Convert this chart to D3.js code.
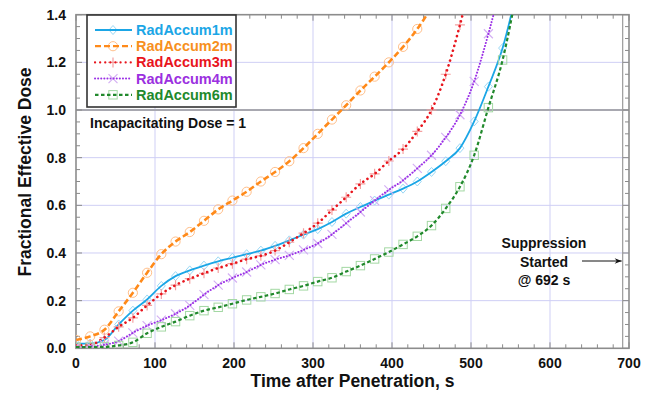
<!DOCTYPE html>
<html><head><meta charset="utf-8">
<script src="https://cdn.jsdelivr.net/npm/d3@7"></script>
<style>
body{margin:0;background:#fff}
svg{display:block}
text{font-family:"Liberation Sans",Arial,sans-serif;font-weight:bold}
</style>
</head><body>
<svg id="c" width="656" height="397"></svg>
<script>
const times = [0,18,36,54,72,90,108,126,144,162,180,198,216,234,252,270,288,306,324,342,360,378,396,414,432,450,468,486,504,522,540,558];
const rad1m = [0.02,0.02,0.035,0.10,0.158,0.205,0.262,0.303,0.327,0.347,0.365,0.38,0.395,0.41,0.43,0.453,0.477,0.50,0.53,0.565,0.593,0.62,0.645,0.67,0.70,0.74,0.785,0.84,0.952,1.098,1.26,1.50];
const rad2m = [0.035,0.05,0.078,0.155,0.233,0.317,0.395,0.448,0.488,0.535,0.583,0.62,0.657,0.70,0.74,0.785,0.84,0.90,0.96,1.02,1.082,1.14,1.20,1.265,1.34,1.43,null,null,null,null,null,null];
const rad3m = [0.012,0.015,0.045,0.09,0.128,0.18,0.228,0.265,0.292,0.315,0.337,0.355,0.374,0.388,0.41,0.445,0.483,0.525,0.58,0.634,0.69,0.732,0.786,0.836,0.91,1.0,1.15,1.357,1.6,null,null,null];
const rad4m = [0.006,0.008,0.015,0.03,0.065,0.095,0.118,0.145,0.18,0.225,0.265,0.295,0.32,0.35,0.372,0.39,0.413,0.44,0.478,0.525,0.572,0.62,0.665,0.705,0.755,0.81,0.885,0.98,1.12,1.32,1.55,null];
const rad6m = [0.005,0.005,0.006,0.012,0.025,0.063,0.09,0.112,0.137,0.158,0.172,0.187,0.203,0.216,0.23,0.247,0.262,0.28,0.296,0.322,0.347,0.375,0.404,0.436,0.47,0.515,0.587,0.678,0.81,1.01,1.21,1.5];
const seriesNames = ["RadAccum1m","RadAccum2m","RadAccum3m","RadAccum4m","RadAccum6m"];
const xTicks = [0,100,200,300,400,500,600,700];
const yTicks = [0.0,0.2,0.4,0.6,0.8,1.0,1.2,1.4];
const suppressionTime = 692;
const incapDose = 1;

const styles = [
  {color:"#1ba6e6", text:"#1ba6e6", mcolor:"#9ad8f5", width:1.8, dash:null, marker:"diamond"},
  {color:"#ff8a1a", text:"#f7901e", mcolor:"#ffbf8a", width:2.6, dash:"6,3", marker:"circle"},
  {color:"#e8151d", text:"#e8151d", mcolor:"#f4a0a0", width:2.6, dash:"0.1,5", cap:"round", marker:"plus"},
  {color:"#9b30e6", text:"#9b30e0", mcolor:"#d4b0f3", width:2.0, dash:"0.1,3", cap:"round", marker:"cross"},
  {color:"#21892c", text:"#21892c", mcolor:"#a3d8a3", width:2.2, dash:"3.5,2.5", marker:"square"}
];
const data = [rad1m,rad2m,rad3m,rad4m,rad6m];

const svg = d3.select("#c");
const x = d3.scaleLinear([0,700],[76,629]);
const y = d3.scaleLinear([0,1.4],[348.3,14.7]);

svg.append("defs").append("clipPath").attr("id","clip")
  .append("rect").attr("x",x(0)).attr("y",y(1.4)).attr("width",x(700)-x(0)).attr("height",y(0)-y(1.4));
svg.select("defs").append("marker").attr("id","arr").attr("viewBox","0 0 10 10")
  .attr("refX",10).attr("refY",5).attr("markerWidth",9).attr("markerHeight",7).attr("orient","auto")
  .attr("markerUnits","userSpaceOnUse")
  .append("path").attr("d","M0,1 L10,5 L0,9 L3,5 Z").attr("fill","#111");

// grid
const grid = svg.append("g");
grid.selectAll("line.v").data(xTicks.slice(1,-1)).join("line")
  .attr("x1",d=>x(d)).attr("x2",d=>x(d)).attr("y1",y(0)).attr("y2",y(1.4))
  .attr("stroke","#cfcff5").attr("stroke-width",1);
grid.selectAll("line.h").data(yTicks.slice(1,-1).filter(d=>d!==incapDose)).join("line")
  .attr("x1",x(0)).attr("x2",x(700)).attr("y1",d=>y(d)).attr("y2",d=>y(d))
  .attr("stroke","#cfcff5").attr("stroke-width",1);
grid.append("line").attr("x1",x(0)).attr("x2",x(700)).attr("y1",y(incapDose)).attr("y2",y(incapDose))
  .attr("stroke","#a8a8b0").attr("stroke-width",2);
grid.append("line").attr("x1",x(suppressionTime)).attr("x2",x(suppressionTime)).attr("y1",y(0)).attr("y2",y(1.4))
  .attr("stroke","#9a9a9a").attr("stroke-width",1.2);

// ticks (inside)
const tk = svg.append("g").attr("stroke","#8a8a8a").attr("stroke-width",1);
const xMinor = d3.range(0,701,20);
const yMinor = d3.range(0,1.4001,0.05);
xMinor.forEach(v=>{
  const L = v%100===0?6:4;
  tk.append("line").attr("x1",x(v)).attr("x2",x(v)).attr("y1",y(0)).attr("y2",y(0)-L);
  tk.append("line").attr("x1",x(v)).attr("x2",x(v)).attr("y1",y(1.4)).attr("y2",y(1.4)+L);
});
yMinor.forEach(v=>{
  const L = Math.abs(v*5-Math.round(v*5))<1e-6?6:4;
  tk.append("line").attr("y1",y(v)).attr("y2",y(v)).attr("x1",x(0)).attr("x2",x(0)+L);
  tk.append("line").attr("y1",y(v)).attr("y2",y(v)).attr("x1",x(700)).attr("x2",x(700)-L);
});

// frame
svg.append("rect").attr("x",x(0)).attr("y",y(1.4)).attr("width",x(700)-x(0)).attr("height",y(0)-y(1.4))
  .attr("fill","none").attr("stroke","#8c8c8c").attr("stroke-width",1.6);

// series
const plot = svg.append("g").attr("clip-path","url(#clip)");
function drawMarker(g, type, cx, cy, col){
  if(type==="diamond"){
    g.append("path").attr("d",`M${cx},${cy-4.5}L${cx+4},${cy}L${cx},${cy+4.5}L${cx-4},${cy}Z`).attr("fill","none").attr("stroke",col).attr("stroke-width",1);
  } else if(type==="circle"){
    g.append("circle").attr("cx",cx).attr("cy",cy).attr("r",4.6).attr("fill","none").attr("stroke",col).attr("stroke-width",1);
  } else if(type==="plus"){
    g.append("path").attr("d",`M${cx-5},${cy}L${cx+5},${cy}M${cx},${cy-5}L${cx},${cy+5}`).attr("stroke",col).attr("stroke-width",1.2);
  } else if(type==="cross"){
    g.append("path").attr("d",`M${cx-4.5},${cy-4.5}L${cx+4.5},${cy+4.5}M${cx-4.5},${cy+4.5}L${cx+4.5},${cy-4.5}`).attr("stroke",col).attr("stroke-width",1.2);
  } else if(type==="square"){
    g.append("rect").attr("x",cx-4.2).attr("y",cy-4.2).attr("width",8.4).attr("height",8.4).attr("fill","none").attr("stroke",col).attr("stroke-width",1);
  }
}
const line = d3.line().defined(d=>d[1]!==null).x(d=>x(d[0])).y(d=>y(d[1])).curve(d3.curveMonotoneX);
data.forEach((vals,i)=>{
  const st = styles[i];
  const pts = times.map((t,j)=>[t,vals[j]]);
  const mg = plot.append("g");
  pts.filter(p=>p[1]!==null).forEach(p=>drawMarker(mg, st.marker, x(p[0]), y(p[1]), st.mcolor));
  plot.append("path").datum(pts).attr("d",line).attr("fill","none")
    .attr("stroke",st.color).attr("stroke-width",st.width)
    .attr("stroke-dasharray",st.dash).attr("stroke-linecap",st.cap||"butt");
});

// tick labels
svg.append("g").selectAll("text").data(xTicks).join("text")
  .attr("x",d=>x(d)).attr("y",368).attr("text-anchor","middle").attr("font-size",14).attr("fill","#111")
  .text(d=>d);
svg.append("g").selectAll("text").data(yTicks).join("text")
  .attr("x",66).attr("y",d=>y(d)+5).attr("text-anchor","end").attr("font-size",14).attr("fill","#111")
  .text(d=>d.toFixed(1));

// axis titles
svg.append("text").attr("x",(x(0)+x(700))/2).attr("y",387).attr("text-anchor","middle")
  .attr("font-size",17.5).attr("fill","#111").text("Time after Penetration, s");
svg.append("text").attr("transform",`translate(31,${172}) rotate(-90)`).attr("text-anchor","middle")
  .attr("font-size",17.5).attr("fill","#111").text("Fractional Effective Dose");

// legend
const lg = svg.append("g");
lg.append("rect").attr("x",87).attr("y",15).attr("width",149).attr("height",92)
  .attr("fill","#fff").attr("stroke","#333").attr("stroke-width",1.6);
seriesNames.forEach((n,i)=>{
  const st = styles[i];
  const cy = 30 + i*16.2;
  drawMarker(lg, st.marker, 113, cy, st.mcolor);
  lg.append("line").attr("x1",95).attr("x2",132).attr("y1",cy).attr("y2",cy)
    .attr("stroke",st.color).attr("stroke-width",Math.min(st.width,2.2)).attr("stroke-dasharray",st.dash)
    .attr("stroke-linecap",st.cap||"butt");
  lg.append("text").attr("x",136).attr("y",cy+5).attr("font-size",14.5).attr("fill",st.text).text(n);
});

// annotations
svg.append("text").attr("x",90).attr("y",127.5).attr("font-size",14).attr("fill","#111")
  .text("Incapacitating Dose = " + incapDose);
const ann = svg.append("text").attr("font-size",14).attr("fill","#111").attr("text-anchor","middle");
ann.append("tspan").attr("x",544).attr("y",248).text("Suppression");
ann.append("tspan").attr("x",544).attr("y",266.5).text("Started");
ann.append("tspan").attr("x",544).attr("y",285).text("@ " + suppressionTime + " s");
svg.append("line").attr("x1",582).attr("x2",x(suppressionTime)-1).attr("y1",261).attr("y2",261)
  .attr("stroke","#111").attr("stroke-width",1).attr("marker-end","url(#arr)");
</script>
</body></html>
